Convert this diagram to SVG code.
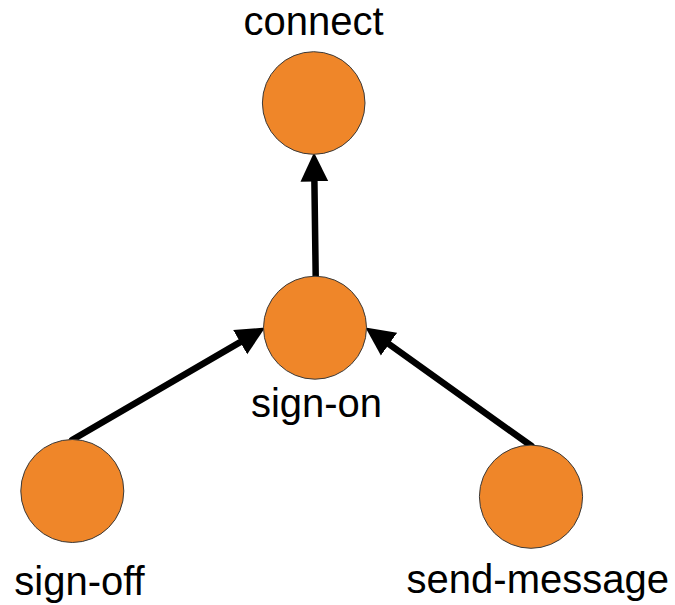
<svg xmlns="http://www.w3.org/2000/svg" width="675" height="605" viewBox="0 0 675 605">
  <style>
    .node { fill: #EF8629; stroke: #3a3a3a; stroke-width: 1; }
    .label { font-family: "Liberation Sans", Arial, sans-serif; font-size: 40px; fill: #000; text-anchor: middle; }
    .edge { stroke: #000; stroke-width: 6.5; fill: none; stroke-linecap: round; }
  </style>
  <defs>
    <marker id="arrow" markerUnits="userSpaceOnUse" markerWidth="30" markerHeight="30" viewBox="0 -14 28 28" refX="0" refY="0" orient="auto">
      <path d="M0,-13 L27,0 L0,13 Z" fill="#000"/>
    </marker>
  </defs>
  <rect width="675" height="605" fill="#fff"/>

  <g id="edges">
    <line class="edge" x1="315.7" y1="277" x2="314.4" y2="181.5" marker-end="url(#arrow)"/>
    <line class="edge" x1="72" y1="440" x2="240.2" y2="342.1" marker-end="url(#arrow)"/>
    <line class="edge" x1="531.5" y1="446" x2="389" y2="344.2" marker-end="url(#arrow)"/>
  </g>

  <g id="connect">
    <circle class="node" cx="313.7" cy="103" r="51.3"/>
    <text class="label" x="313.5" y="35">connect</text>
  </g>
  <g id="sign-on">
    <circle class="node" cx="315" cy="327.7" r="51.5"/>
    <text class="label" x="316.5" y="416.5">sign-on</text>
  </g>
  <g id="sign-off">
    <circle class="node" cx="72.3" cy="491" r="51.5"/>
    <text class="label" x="79.5" y="595">sign-off</text>
  </g>
  <g id="send-message">
    <circle class="node" cx="531" cy="496.7" r="51.6"/>
    <text class="label" x="537.8" y="593.3">send-message</text>
  </g>
</svg>
